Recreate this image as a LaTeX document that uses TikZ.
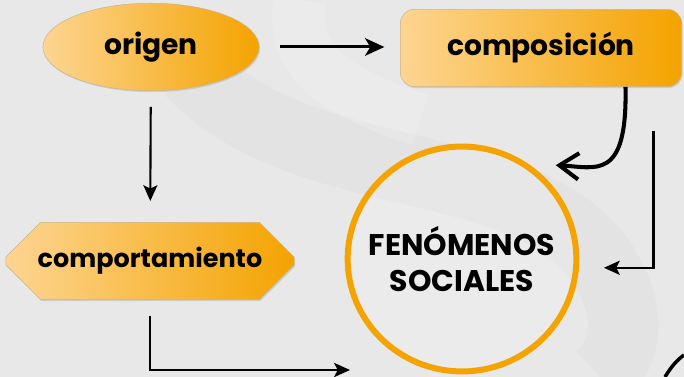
\documentclass[tikz,border=0pt]{standalone}
\usepackage{fontspec}
\newfontfamily\rotulo{Poppins}
\usetikzlibrary{shapes.geometric,shapes.misc,arrows.meta,calc,shadows}

\definecolor{naranja}{HTML}{F4A300}
\definecolor{medio}{HTML}{F8B64A}
\definecolor{durazno}{HTML}{FDD592}
\definecolor{fondo}{HTML}{E8E8E8}
\definecolor{banda}{HTML}{DDDDDD}
\definecolor{borde}{HTML}{CDB48A}

\tikzset{
  caja/.style={draw=borde, line width=0.3pt, left color=durazno, middle color=medio, right color=naranja,
    font=\rotulo\bfseries\fontsize{16}{19}\selectfont, inner sep=0pt,
    drop shadow={opacity=0.25, shadow xshift=0.6pt, shadow yshift=-0.8pt}},
  flecha/.style={-{Stealth[length=9pt,width=8pt,inset=2pt]}, line width=1.4pt},
}

\begin{document}
\begin{tikzpicture}[x=0.02cm, y=-0.02cm]

% Background
\useasboundingbox (0,0) rectangle (684,377);
\fill[fondo] (0,0) rectangle (684,377);
\draw[banda, line width=40pt, opacity=0.4] (190,70) .. controls (300,190) and (520,150) .. (600,260) .. controls (640,320) and (620,360) .. (600,377);
\draw[white, line width=30pt, opacity=0.15] (300,0) .. controls (290,60) and (330,90) .. (420,120);

% Define nodes
\node[caja, ellipse, inner xsep=16pt, inner ysep=9pt, minimum width=123pt, minimum height=44pt] (origen) at (151,47) {origen};
\node[caja, rounded corners=8pt, minimum width=160pt, minimum height=44pt] (compo) at (541,48) {composición};
\node[caja, chamfered rectangle, chamfered rectangle xsep=13pt, chamfered rectangle ysep=12pt,
  minimum width=164pt, minimum height=44pt, font=\rotulo\bfseries\fontsize{14.5}{18}\selectfont] (comport) at (150,261) {comportamiento};
\node[ellipse, draw=naranja, line width=3.4pt, fill=white, fill opacity=0.15, text opacity=1,
  inner xsep=-7pt, inner ysep=0pt, minimum width=130pt, minimum height=128pt, align=center,
  font=\rotulo\bfseries\fontsize{17}{20}\selectfont] (fen) at (462,259) {FENÓMENOS\\SOCIALES};
\coordinate (fin) at (350,370);

% Arrows
\draw[flecha, line width=1.7pt, -{Stealth[length=11pt,width=10pt,inset=3pt]}, shorten <=12pt, shorten >=9pt]
  (origen.east) -- (origen.east -| compo.west);
\draw[flecha, line width=1.2pt, shorten <=9pt, shorten >=12pt] (origen) -- (comport);
\draw[line width=2.3pt, -{Straight Barb[length=11pt,width=15pt]}]
  ($(compo.south)!0.6!(compo.south east)$) .. controls +(2,95) and +(40,2) .. ($(fen.center)!1.14!(fen.45)$);
\draw[flecha, shorten <=25pt, shorten >=14pt]
  ($(compo.south)!0.8!(compo.south east)$) |- ([yshift=-5pt]fen.east);
\draw[flecha, shorten <=9pt] (comport.south) |- (fin);

% Corner
\draw[line width=2pt] (665,377) .. controls (671,367) and (677,360) .. (684,355);

\end{tikzpicture}
\end{document}
